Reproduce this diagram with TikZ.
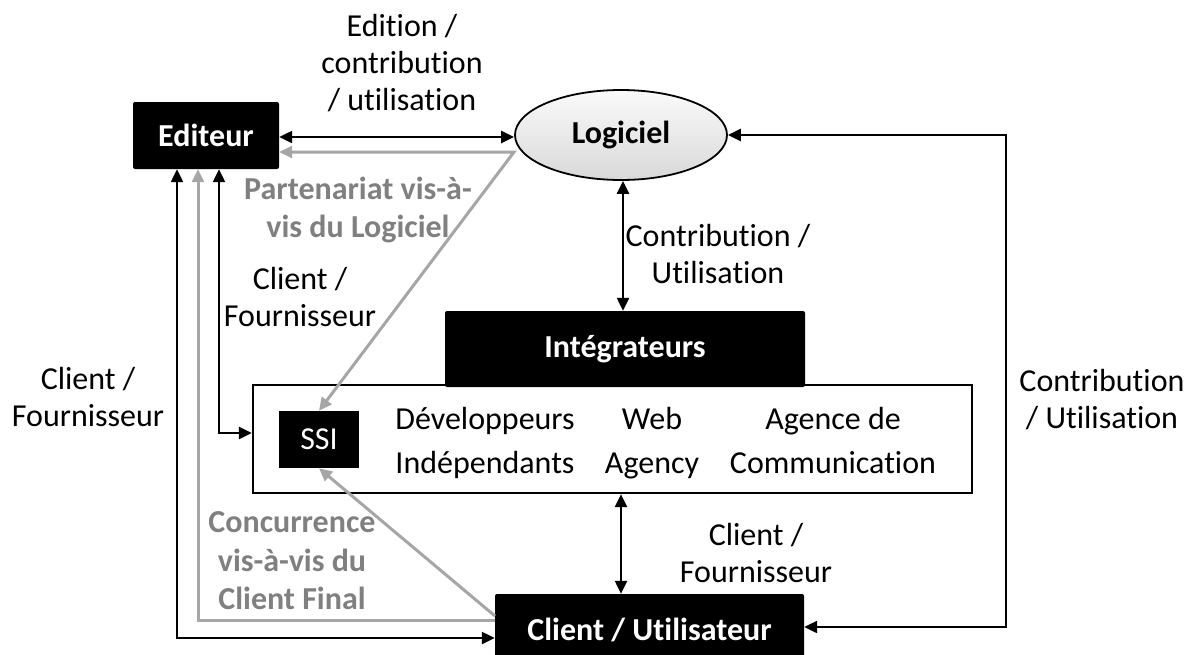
\documentclass[tikz,border=0pt]{standalone}
\usepackage{fontspec}
\setmainfont{Carlito}[Ligatures=NoCommon]
\usetikzlibrary{arrows.meta,shapes.geometric,calc}
\definecolor{lgray}{HTML}{A6A6A6}
\definecolor{tgray}{HTML}{808080}
\newcommand{\eqh}{\vphantom{Édpy}}
\begin{document}
\begin{tikzpicture}[x=1pt,y=-1pt,
  lbl/.style={font=\fontsize{32}{37}\selectfont, align=center, inner sep=0pt},
  inlbl/.style={font=\fontsize{32}{44}\selectfont, align=center, inner sep=0pt},
  glbl/.style={font=\fontsize{32}{38.5}\selectfont\bfseries, text=tgray, align=center, inner sep=0pt},
  blk/.style={fill=black, rounded corners=2pt, text=white, inner sep=0pt,
              font=\fontsize{32}{37}\selectfont\bfseries},
  conn/.style={line width=2.3pt, {Triangle[length=13pt,width=12pt]}-{Triangle[length=13pt,width=12pt]}},
  gboth/.style={draw=lgray, line width=3pt, {Triangle[length=13pt,width=12pt]}-{Triangle[length=13pt,width=12pt]}},
  gend/.style={draw=lgray, line width=3pt, -{Triangle[length=13pt,width=12pt]}}
]
\useasboundingbox (0,0) rectangle (1196,654);

% nodes
\node[blk, minimum width=146pt, minimum height=67pt] (ed) at (206,135.5) {Editeur};
\node[ellipse, draw=black, line width=1.8pt, top color=gray!4, bottom color=gray!30,
      minimum width=212pt, minimum height=90pt, inner sep=0pt,
      font=\fontsize{32}{37}\selectfont\bfseries] (log) at (621,135) {Logiciel};
\node[draw=black, fill=white, line width=2.3pt, minimum width=719pt, minimum height=108pt,
      inner sep=0pt] (big) at (612.5,439) {};
\node[blk, minimum width=360pt, minimum height=76pt] (integ) at (625,349) {Intégrateurs};
\node[blk, rounded corners=0pt, minimum width=80pt, minimum height=57pt,
      font=\fontsize{32}{37}\selectfont] (ssi) at (319,439.5) {SSI};
\node[blk, minimum width=309pt, minimum height=72pt] (cli) at (649.5,630) {Client / Utilisateur};

% texts inside the big box
\node[inlbl] (dev) at (485,441) {\eqh Développeurs\\\eqh Indépendants};
\node[inlbl] (web) at (652,441) {\eqh Web\\\eqh Agency};
\node[inlbl] (age) at (833,441) {\eqh Agence de\\\eqh Communication};

% labels
\node[lbl] (l1) at (402,63) {Edition /\\contribution\\/ utilisation};
\node[glbl] (l2) at (358,210) {Partenariat vis-à-\\vis du Logiciel};
\node[lbl] (l3) at (300,297) {Client /\\Fournisseur};
\node[lbl] (l4) at (88,397) {Client /\\Fournisseur};
\node[lbl] (l5) at (718,254) {Contribution /\\Utilisation};
\node[lbl] (l6) at (1102,400) {Contribution\\/ Utilisation};
\node[lbl] (l7) at (756,553) {Client /\\Fournisseur};
\node[glbl] (l8) at (292,561) {Concurrence\\vis-à-vis du\\Client Final};

% helper coordinates
\coordinate (gc) at (514,152);
\coordinate (g2) at (198,620);
\coordinate (b1) at (177,638);
\coordinate (b2) at (219,433);
\coordinate (v1) at (623,0);
\coordinate (v2) at (621,0);
\coordinate (r1) at (1006,135);
\coordinate (r2) at (1006,627);
\coordinate (gs) at (495,616);
\coordinate (e1) at (0,137);

% gray connectors
\draw[gboth] (ed.east |- gc) -- (gc) -- (ssi.north);
\draw[gend] (gs) -- (ssi.south);
\draw[gend] (cli.west |- g2) -| (ed.south -| g2);

% black connectors
\draw[conn] (ed.east |- e1) -- (log.west |- e1);
\draw[conn] (ed.south -| b1) |- (cli.west |- b1);
\draw[conn] (ed.south -| b2) |- (big.west |- b2);
\draw[conn] (log.south -| v1) -- (integ.north -| v1);
\draw[conn] (big.south -| v2) -- (cli.north -| v2);
\draw[conn] (log.east) -- (r1) -- (r2) -- (cli.east |- r2);
\end{tikzpicture}
\end{document}
